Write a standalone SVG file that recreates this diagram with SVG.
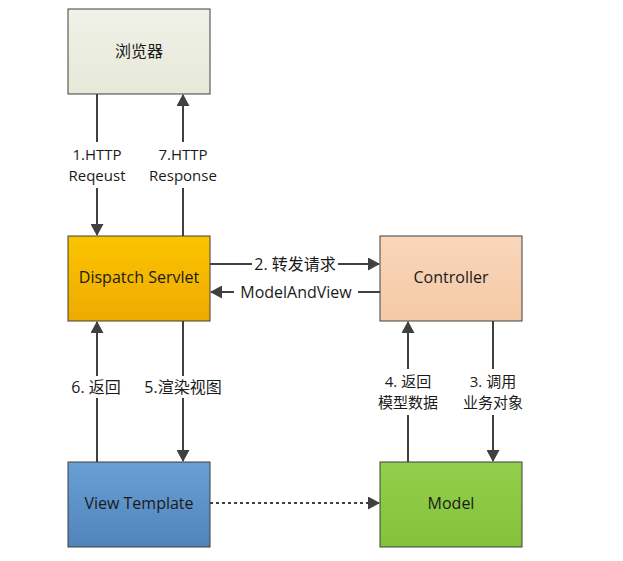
<svg xmlns="http://www.w3.org/2000/svg" width="623" height="561" viewBox="0 0 623 561">
<style>
.box{stroke:#3f3f3f;stroke-width:1}
.t{font-family:"Open Sans","Noto Sans CJK SC",sans-serif;font-size:16px;fill:#1a1a1a;text-anchor:middle;dominant-baseline:central}
.l{font-family:"Open Sans","Noto Sans CJK SC",sans-serif;font-size:16px;fill:#1a1a1a;text-anchor:middle;dominant-baseline:central}
.l2{font-family:"Open Sans","Noto Sans CJK SC",sans-serif;font-size:15px;fill:#1a1a1a;text-anchor:middle;dominant-baseline:central}
.c{stroke:#404040;stroke-width:2;fill:none}
.bg{fill:#ffffff}
</style>
<defs>
<marker id="ah" viewBox="0 0 12 13" refX="11" refY="6.5" markerWidth="12" markerHeight="13" markerUnits="userSpaceOnUse" orient="auto">
<path d="M0,0 L12,6.5 L0,13 Z" fill="#404040"/>
</marker>
<linearGradient id="gb" x1="0" y1="0" x2="0" y2="1"><stop offset="0" stop-color="#f1f2e8"/><stop offset="1" stop-color="#e6e8d8"/></linearGradient>
<linearGradient id="gd" x1="0" y1="0" x2="0" y2="1"><stop offset="0" stop-color="#fbc400"/><stop offset="1" stop-color="#eeaa00"/></linearGradient>
<linearGradient id="gc" x1="0" y1="0" x2="0" y2="1"><stop offset="0" stop-color="#f9d6bb"/><stop offset="1" stop-color="#f5c9a5"/></linearGradient>
<linearGradient id="gv" x1="0" y1="0" x2="0" y2="1"><stop offset="0" stop-color="#6a9fd4"/><stop offset="1" stop-color="#5084bb"/></linearGradient>
<linearGradient id="gm" x1="0" y1="0" x2="0" y2="1"><stop offset="0" stop-color="#92cf4a"/><stop offset="1" stop-color="#85c23c"/></linearGradient>
</defs>
<rect width="623" height="561" fill="#ffffff"/>
<g id="browser"><rect class="box" x="68" y="9" width="142" height="85" fill="url(#gb)"/><text class="t" x="139" y="51">浏览器</text></g>
<g id="dispatch"><rect class="box" x="68" y="236" width="142" height="85" fill="url(#gd)"/><text class="t" x="139" y="277">Dispatch Servlet</text></g>
<g id="controller"><rect class="box" x="380" y="236" width="142" height="85" fill="url(#gc)"/><text class="t" x="451" y="277">Controller</text></g>
<g id="view"><rect class="box" x="68" y="462" width="142" height="85" fill="url(#gv)"/><text class="t" x="139" y="503">View Template</text></g>
<g id="model"><rect class="box" x="380" y="462" width="142" height="85" fill="url(#gm)"/><text class="t" x="451" y="503">Model</text></g>
<g id="connectors">
<line class="c" x1="97" y1="94" x2="97" y2="235" marker-end="url(#ah)"/>
<line class="c" x1="183" y1="236" x2="183" y2="95" marker-end="url(#ah)"/>
<line class="c" x1="210" y1="264" x2="379" y2="264" marker-end="url(#ah)"/>
<line class="c" x1="380" y1="292" x2="211" y2="292" marker-end="url(#ah)"/>
<line class="c" x1="97" y1="462" x2="97" y2="322" marker-end="url(#ah)"/>
<line class="c" x1="183" y1="321" x2="183" y2="461" marker-end="url(#ah)"/>
<line class="c" x1="408" y1="462" x2="408" y2="322" marker-end="url(#ah)"/>
<line class="c" x1="493" y1="321" x2="493" y2="461" marker-end="url(#ah)"/>
<line class="c" x1="210" y1="503" x2="379" y2="503" stroke-dasharray="3,3" marker-end="url(#ah)"/>
<rect class="bg" x="64" y="142" width="66" height="46"/>
<text class="l2" x="97" y="154">1.HTTP<tspan x="97" dy="21">Reqeust</tspan></text>
<rect class="bg" x="143" y="142" width="80" height="46"/>
<text class="l2" x="183" y="154">7.HTTP<tspan x="183" dy="21">Response</tspan></text>
<rect class="bg" x="252" y="254" width="86" height="20"/>
<text class="l" x="295" y="264">2. 转发请求</text>
<rect class="bg" x="234" y="282" width="124" height="20"/>
<text class="l" x="296" y="292">ModelAndView</text>
<rect class="bg" x="68" y="376" width="56" height="22"/>
<text class="l" x="96" y="387">6. 返回</text>
<rect class="bg" x="141" y="376" width="84" height="22"/>
<text class="l" x="183" y="387">5.渲染视图</text>
<rect class="bg" x="372" y="369" width="72" height="46"/>
<text class="l2" x="408" y="381">4. 返回<tspan x="408" dy="21">模型数据</tspan></text>
<rect class="bg" x="457" y="369" width="72" height="46"/>
<text class="l2" x="493" y="381">3. 调用<tspan x="493" dy="21">业务对象</tspan></text>
</g>
</svg>
